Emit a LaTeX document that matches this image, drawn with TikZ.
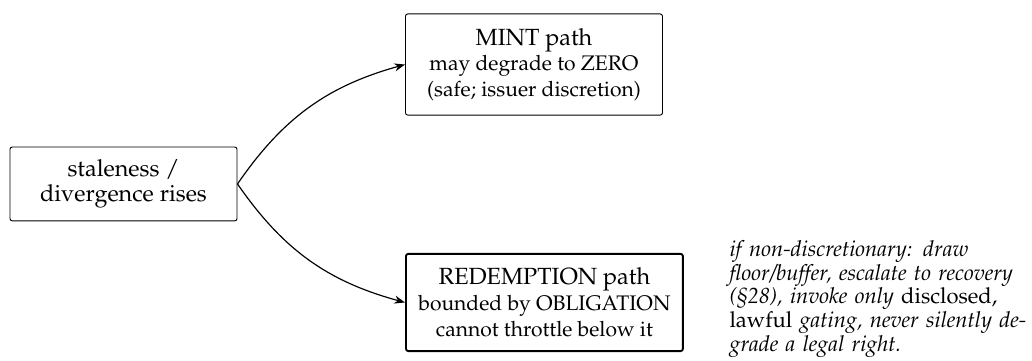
\documentclass[tikz,border=0pt]{standalone}
\usepackage[T1]{fontenc}
\usepackage{mathpazo}
\usetikzlibrary{positioning,arrows.meta}

\begin{document}
\begin{tikzpicture}[
    stage/.style={rectangle,draw,rounded corners=1pt,align=center,inner sep=5pt,font=\fontsize{10}{11}\selectfont},
    obligation/.style={stage,thick},
    arrow/.style={-{Stealth[length=1.6mm]},line width=0.5pt}
]
\useasboundingbox (0,0) rectangle (15.5,5.407);

% Trigger
\node[stage,minimum width=3.41cm,minimum height=1.11cm] (stale) at (1.855,2.644) {staleness /\\divergence rises};

% Mint side
\node[stage,anchor=west,minimum width=3.86cm,minimum height=1.52cm] (mint) at (6.083,4.438) {MINT path\\{\small may degrade to ZERO}\\{\small (safe; issuer discretion)}};

% Redemption side
\node[obligation,anchor=west,minimum width=4.16cm,minimum height=1.46cm] (redeem) at (6.083,0.864) {REDEMPTION path\\{\small bounded by OBLIGATION}\\{\small cannot throttle below it}};

\draw[arrow] (stale.east) to[bend left=20] (mint.west);
\draw[arrow] (stale.east) to[bend right=20] (redeem.west);

% Fallback rules
\node[anchor=base west,inner sep=0pt,text width=5cm,align=left,font=\fontsize{9.4}{10.2}\selectfont\itshape] (note) at (10.95,1.56) {if non-discretionary: draw\\
  floor/buffer, escalate to recovery\\
  (\S28), invoke only \emph{disclosed,}\\
  \emph{lawful} gating, never silently de-\\
  grade a legal right.};

\end{tikzpicture}
\end{document}
